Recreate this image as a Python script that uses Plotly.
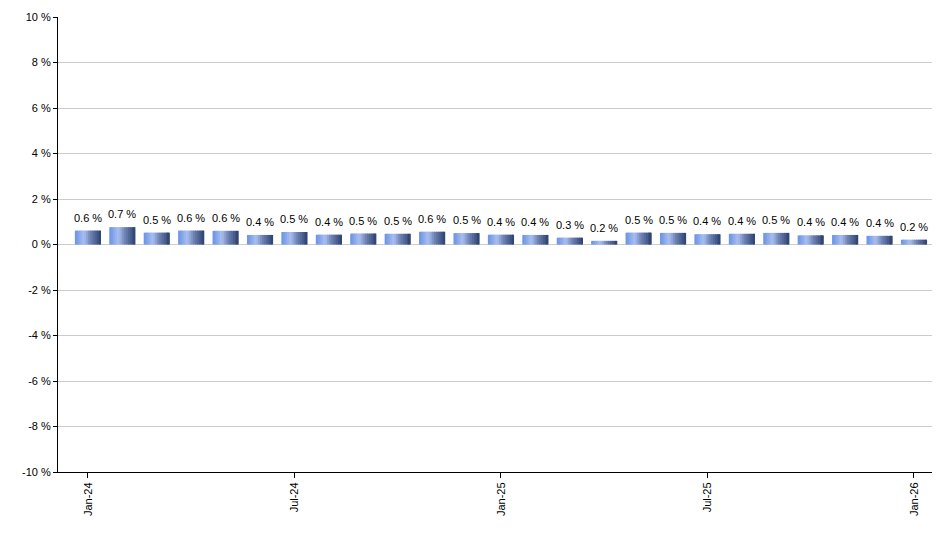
import plotly.graph_objects as go

months = ["Jan-24","Feb-24","Mar-24","Apr-24","May-24","Jun-24","Jul-24","Aug-24","Sep-24","Oct-24","Nov-24","Dec-24",
          "Jan-25","Feb-25","Mar-25","Apr-25","May-25","Jun-25","Jul-25","Aug-25","Sep-25","Oct-25","Nov-25","Dec-25","Jan-26"]
values = [0.61,0.76,0.52,0.61,0.60,0.42,0.55,0.43,0.48,0.47,0.56,0.50,0.43,0.42,0.30,0.16,0.52,0.51,0.45,0.47,0.51,0.40,0.42,0.38,0.21]
labels = ["0.6 %","0.7 %","0.5 %","0.6 %","0.6 %","0.4 %","0.5 %","0.4 %","0.5 %","0.5 %","0.6 %","0.5 %",
          "0.4 %","0.4 %","0.3 %","0.2 %","0.5 %","0.5 %","0.4 %","0.4 %","0.5 %","0.4 %","0.4 %","0.4 %","0.2 %"]
tick_idx = [0,6,12,18,24]
ytick_vals = list(range(-10,11,2))
ytick_text = [f"{v} %" for v in ytick_vals]

x = list(range(len(months)))
stops = [(0.0,(105,145,230)),(0.35,(170,192,240)),(0.6,(110,130,180)),(1.0,(45,65,110))]
def col(t):
    for (a,ca),(b,cb) in zip(stops,stops[1:]):
        if a<=t<=b:
            f=(t-a)/(b-a)
            return "rgb(%d,%d,%d)"%tuple(round(ca[i]+(cb[i]-ca[i])*f) for i in range(3))
    return "rgb(45,65,110)"

fig = go.Figure()
n=14; W=0.76; w=W/n
for i in range(n):
    fig.add_trace(go.Bar(x=x,y=values,width=w*1.6 if i<n-1 else w,offset=-W/2+i*w,
                         marker=dict(color=col((i+0.5)/n),line=dict(width=0)),
                         showlegend=False,hoverinfo="skip"))
for xi,v,t in zip(x,values,labels):
    fig.add_annotation(x=xi,y=v,text=t,showarrow=False,yanchor="bottom",yshift=5,
                       font=dict(size=11,color="black"))
fig.update_layout(width=940,height=550,barmode="overlay",plot_bgcolor="white",paper_bgcolor="white",
                  margin=dict(l=50,r=2,t=9,b=86,autoexpand=False),
                  font=dict(family="Arial, Liberation Sans",size=11,color="black"))
fig.update_xaxes(range=[-0.87,24.93],tickmode="array",tickvals=tick_idx,ticktext=[months[i] for i in tick_idx],
                 tickangle=-90,showline=True,linecolor="black",ticks="outside",ticklen=5,tickcolor="black",
                 showgrid=False,zeroline=False,automargin=False)
fig.update_yaxes(range=[-10,10],tickmode="array",tickvals=ytick_vals,ticktext=ytick_text,
                 showline=True,linecolor="black",ticks="outside",ticklen=4,tickcolor="black",
                 gridcolor="#cccccc",zeroline=False,automargin=False)
fig.write_html("out.html")
